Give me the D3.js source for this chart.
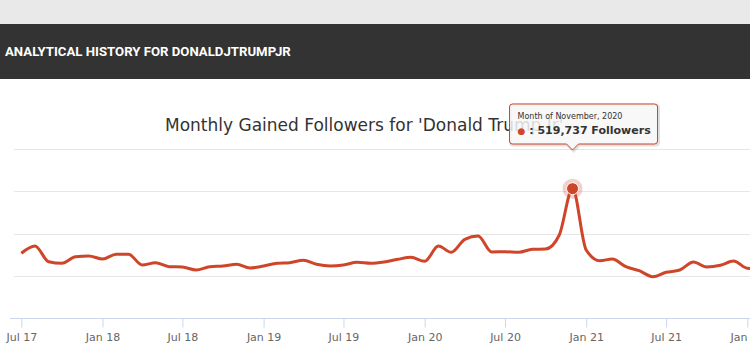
<!DOCTYPE html>
<html>
<head>
<meta charset="utf-8">
<script src="https://cdn.jsdelivr.net/npm/d3@7"></script>
<style>
  body { margin: 0; background: #fff; overflow: hidden; }
  svg { display: block; }
</style>
</head>
<body>
<svg id="chart" width="750" height="362"></svg>
<script>
// monthly gained followers, June 2017 .. January 2022 (one value per month)
const months = [
  '2017-06','2017-07','2017-08','2017-09','2017-10','2017-11','2017-12',
  '2018-01','2018-02','2018-03','2018-04','2018-05','2018-06','2018-07','2018-08','2018-09','2018-10','2018-11','2018-12',
  '2019-01','2019-02','2019-03','2019-04','2019-05','2019-06','2019-07','2019-08','2019-09','2019-10','2019-11','2019-12',
  '2020-01','2020-02','2020-03','2020-04','2020-05','2020-06','2020-07','2020-08','2020-09','2020-10','2020-11','2020-12',
  '2021-01','2021-02','2021-03','2021-04','2021-05','2021-06','2021-07','2021-08','2021-09','2021-10','2021-11','2021-12',
  '2022-01'
];
const gained = [
  261000, 290000, 227000, 220500, 247000, 249800, 237700,
  256600, 256600, 213700, 222900, 206900, 205700, 193600, 206900, 209700, 216500, 201700,
  209700, 220500, 222900, 232500, 216500, 209700, 213700, 224500, 220500, 225700, 236600, 244600,
  228500, 289900, 264600, 316700, 330000, 265800, 267000, 264600, 276600, 277800, 334000, 519737,
  273800, 230900, 237700, 206900, 190800, 166800, 184400, 193600, 225700, 205700, 212500, 229700,
  200500, 198000
];
const xTicks = ['2017-07','2018-01','2018-07','2019-01','2019-07','2020-01','2020-07','2021-01','2021-07','2022-01'];
const yTicks = [0, 170000, 340000, 510000, 680000];
const highlight = '2020-11';

const title = "Monthly Gained Followers for 'Donald Trump Jr'";
const header = 'ANALYTICAL HISTORY FOR DONALDJTRUMPJR';

const parse = d3.timeParse('%Y-%m');
const lineColor = '#cf4529';

// each month's point sits at the end of that month
const data = months.map((m, i) => ({
  month: parse(m),
  date: d3.timeMonth.offset(parse(m), 1),
  value: gained[i]
}));

const svg = d3.select('#chart');

// page header bands
svg.append('rect').attr('x', 0).attr('y', 0).attr('width', 750).attr('height', 24).attr('fill', '#e9e9ea');
svg.append('rect').attr('x', 0).attr('y', 24).attr('width', 750).attr('height', 55).attr('fill', '#333333');
svg.append('text')
  .attr('x', 5).attr('y', 56)
  .attr('fill', '#fff')
  .style('font', 'bold 13.2px Roboto, sans-serif')
  .text(header);

const x = d3.scaleTime()
  .domain([parse('2017-07'), parse('2022-01')])
  .range([21.3, 747.3]);

const y = d3.scaleLinear()
  .domain([0, 680000])
  .range([318.3, 148.7]);

// gridlines
svg.append('g')
  .selectAll('line')
  .data(yTicks.slice(1))
  .enter().append('line')
  .attr('x1', 14).attr('x2', 750)
  .attr('y1', d => Math.round(y(d)) + 0.5)
  .attr('y2', d => Math.round(y(d)) + 0.5)
  .attr('stroke', '#e6e6e6');

// x axis
const xAxis = svg.append('g')
  .attr('transform', `translate(0,${Math.round(y(0)) + 0.5})`)
  .call(d3.axisBottom(x)
    .tickValues(xTicks.map(parse))
    .tickFormat(d3.timeFormat('%b %y'))
    .tickSize(9)
    .tickPadding(6));
xAxis.select('.domain').attr('d', 'M10,0H750').attr('stroke', '#ccd6eb');
xAxis.selectAll('.tick line').attr('stroke', '#ccd6eb');
xAxis.selectAll('.tick text')
  .attr('fill', '#666')
  .style('font', '11px "DejaVu Sans", sans-serif');

// title
svg.append('text')
  .attr('x', 165).attr('y', 131)
  .attr('fill', '#333')
  .style('font', '17px "DejaVu Sans", sans-serif')
  .text(title);

// line
const line = d3.line()
  .x(d => x(d.date))
  .y(d => y(d.value))
  .curve(d3.curveMonotoneX);

svg.append('path')
  .datum(data)
  .attr('d', line)
  .attr('fill', 'none')
  .attr('stroke', lineColor)
  .attr('stroke-width', 3)
  .attr('stroke-linejoin', 'round');

// hovered point
const hp = data.find(d => d3.timeFormat('%Y-%m')(d.month) === highlight);
const hx = x(hp.date), hy = y(hp.value);
svg.append('circle').attr('cx', hx).attr('cy', hy).attr('r', 10)
  .attr('fill', lineColor).attr('opacity', 0.25);
svg.append('circle').attr('cx', hx).attr('cy', hy).attr('r', 6)
  .attr('fill', lineColor).attr('stroke', '#fff').attr('stroke-width', 1);

// tooltip
const tip = svg.append('g');
const tx = hx - 63, ty = 104, tw = 148, th = 40;
const tipPath = `M${tx + 3},${ty}H${tx + tw - 3}Q${tx + tw},${ty} ${tx + tw},${ty + 3}` +
  `V${ty + th - 3}Q${tx + tw},${ty + th} ${tx + tw - 3},${ty + th}` +
  `H${hx + 6}L${hx},${ty + th + 6}L${hx - 6},${ty + th}` +
  `H${tx + 3}Q${tx},${ty + th} ${tx},${ty + th - 3}V${ty + 3}Q${tx},${ty} ${tx + 3},${ty}Z`;
tip.append('path').attr('d', tipPath)
  .attr('transform', 'translate(1,1)')
  .attr('fill', 'none').attr('stroke', '#000').attr('stroke-opacity', 0.12).attr('stroke-width', 3);
tip.append('path').attr('d', tipPath)
  .attr('fill', '#f7f7f7').attr('fill-opacity', 0.85)
  .attr('stroke', lineColor).attr('stroke-width', 1);
tip.append('text')
  .attr('x', tx + 8).attr('y', ty + 15)
  .attr('fill', '#333')
  .style('font', '8px "DejaVu Sans", sans-serif')
  .text('Month of ' + d3.timeFormat('%B, %Y')(hp.month));
tip.append('text')
  .attr('x', tx + 8).attr('y', ty + 30)
  .attr('fill', '#333')
  .style('font', 'bold 11px "DejaVu Sans", sans-serif')
  .call(t => {
    t.append('tspan').attr('fill', lineColor).style('font-size', '9px').text('\u25CF');
    t.append('tspan').text(' : ' + d3.format(',')(hp.value) + ' Followers');
  });
</script>
</body>
</html>
